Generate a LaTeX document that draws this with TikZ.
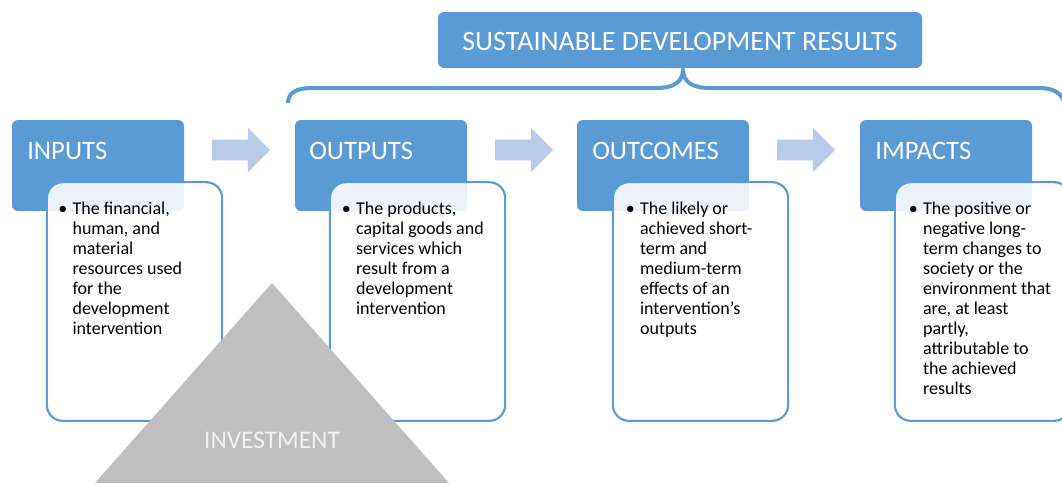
\documentclass[tikz,border=0pt]{standalone}
\usepackage{fontspec}
\setmainfont{Carlito}
\usetikzlibrary{shapes.arrows}
\definecolor{hblue}{HTML}{5B9BD5}
\definecolor{lblue}{HTML}{B8CCE9}
\definecolor{tgray}{HTML}{BFBFBF}
\definecolor{ttext}{HTML}{F2F2F2}
\newcommand{\bul}[1]{\begin{tabular}[t]{@{}l@{\hspace{4pt}}l@{}}\textbullet&\begin{tabular}[t]{@{}l@{}}#1\end{tabular}\end{tabular}}
\tikzset{
  hdr/.style={fill=hblue, rounded corners=4.5pt, minimum width=129pt, minimum height=68.25pt, inner sep=0pt},
  hdrtext/.style={anchor=base west, inner sep=0pt, text=white, font=\fontsize{20}{24}\selectfont},
  wbox/.style={draw=hblue, line width=1.6pt, fill=white, fill opacity=0.88, rounded corners=12pt, minimum width=131.5pt, minimum height=179pt, inner sep=0pt},
  body/.style={anchor=base west, inner sep=0pt, text=black, font=\fontsize{13.5}{15}\selectfont},
  barrow/.style={single arrow, fill=lblue, single arrow head extend=9pt, minimum height=43.5pt, minimum width=33pt, inner xsep=0pt, inner ysep=7.5pt, shape border rotate=0},
}
\begin{document}
\begin{tikzpicture}[x=0.75pt, y=-0.75pt]
\useasboundingbox (0,0) rectangle (1062,483);
% headers
\node[hdr] (hin)  at (98,165.5) {};
\node[hdr] (hout) at (381,165.5) {};
\node[hdr] (hoc)  at (663,165.5) {};
\node[hdr] (him)  at (946,165.5) {};
\node[hdrtext] (tin)  at (27,159)  {INPUTS};
\node[hdrtext] (tout) at (309,159) {OUTPUTS};
\node[hdrtext] (toc)  at (592,159) {OUTCOMES};
\node[hdrtext] (tim)  at (875,159) {IMPACTS};
% white boxes
\node[wbox] (bin)  at (134.5,301.5) {};
\node[wbox] (bout) at (417.5,301.5) {};
\node[wbox] (boc)  at (700.5,301.5) {};
\node[wbox] (bim)  at (982.5,301.5) {};
\node[body] (xin) at (58,214) {\bul{The financial,\\human, and\\material\\resources used\\for the\\development\\intervention}};
\node[body] (xout) at (341.5,214) {\bul{The products,\\capital goods and\\services which\\result from a\\development\\intervention}};
\node[body] (xoc) at (625.5,214) {\bul{The likely or\\achieved short-\\term and\\medium-term\\effects of an\\intervention’s\\outputs}};
\node[body] (xim) at (908.5,214) {\bul{The positive or\\negative long-\\term changes to\\society or the\\environment that\\are, at least\\partly,\\attributable to\\the achieved\\results}};
% block arrows
\node[barrow] (a1) at (236,150) {};
\node[barrow] (a2) at (519,150) {};
\node[barrow] (a3) at (801,150) {};
% top box
\node[fill=hblue, rounded corners=4.5pt, minimum width=363pt, minimum height=42pt, inner sep=0pt] (sdr) at (680,40) {};
\node[inner sep=0pt, text=white, font=\fontsize{21}{24}\selectfont] (sdrt) at (680,42) {SUSTAINABLE DEVELOPMENT RESULTS};
% brace
\coordinate (bl) at (288,103);
\coordinate (br) at (1064,102);
\coordinate (tip) at (683,69);
\draw[hblue, line width=3pt, line join=round] (bl) .. controls (288,93) and (296,88) .. (312,88) -- (656,88)
  .. controls (674,88) and (683,82) .. (tip)
  .. controls (683,82) and (692,88) .. (710,88) -- (1040,88)
  .. controls (1054,88) and (1062,94) .. (br);
% triangle
\coordinate (tA) at (272,283);
\coordinate (tB) at (95,483);
\coordinate (tC) at (449,483);
\fill[tgray] (tA) -- (tB) -- (tC) -- cycle;
\node[text=ttext, inner sep=0pt, font=\fontsize{19}{22}\selectfont] (inv) at (272,440) {INVESTMENT};
\end{tikzpicture}
\end{document}
